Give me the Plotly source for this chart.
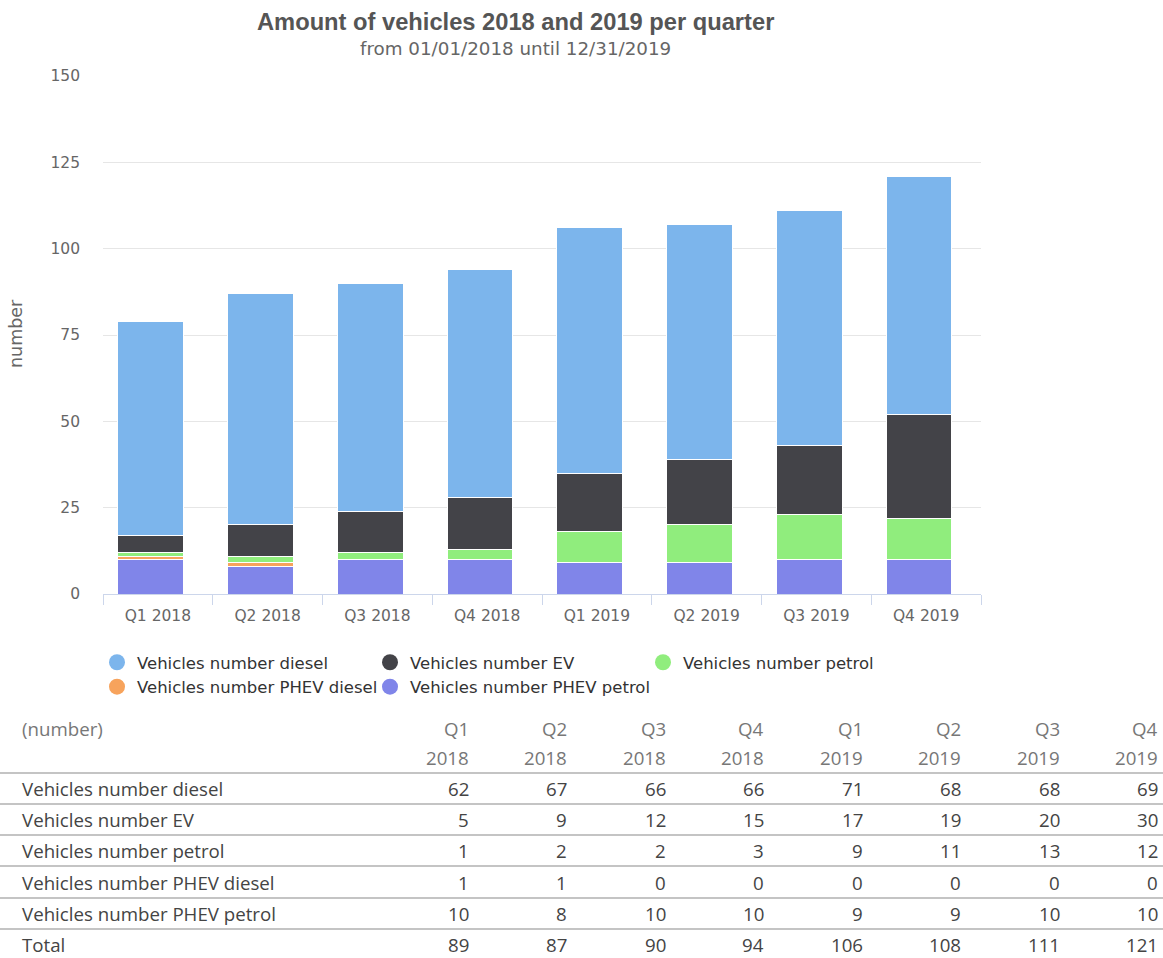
import plotly.graph_objects as go

quarters = ["Q1 2018", "Q2 2018", "Q3 2018", "Q4 2018", "Q1 2019", "Q2 2019", "Q3 2019", "Q4 2019"]
series_names = ["Vehicles number diesel", "Vehicles number EV", "Vehicles number petrol",
                "Vehicles number PHEV diesel", "Vehicles number PHEV petrol"]
diesel = [62, 67, 66, 66, 71, 68, 68, 69]
ev = [5, 9, 12, 15, 17, 19, 20, 30]
petrol = [1, 2, 2, 3, 9, 11, 13, 12]
phev_diesel = [1, 1, 0, 0, 0, 0, 0, 0]
phev_petrol = [10, 8, 10, 10, 9, 9, 10, 10]
totals = [89, 87, 90, 94, 106, 108, 111, 121]
colors = ["#7cb5ec", "#434348", "#90ed7d", "#f7a35c", "#8085e9"]

values = [diesel, ev, petrol, phev_diesel, phev_petrol]

W, H = 1163, 958
L, R, T, B = 103, 981, 76, 594


def px(x):
    return (x - L) / (R - L)


def py(y):
    return (B - y) / (B - T)


fig = go.Figure()
# stack bottom-up: PHEV petrol first
for i in reversed(range(len(series_names))):
    fig.add_trace(go.Bar(x=quarters, y=values[i], name=series_names[i],
                         width=0.6, offset=-0.365,
                         marker=dict(color=colors[i], line=dict(color="white", width=1)),
                         showlegend=False))
# legend entries with circle markers
for i, n in enumerate(series_names):
    fig.add_trace(go.Scatter(x=[None], y=[None], mode="markers", name=n,
                             marker=dict(color=colors[i], size=17, symbol="circle"),
                             legendrank=i + 1))

annotations = [
    dict(text="<b>Amount of vehicles 2018 and 2019 per quarter</b>", x=px(515), y=py(22),
         xref="paper", yref="paper", showarrow=False, xanchor="center", yanchor="middle",
         font=dict(family="Liberation Sans, Arial", size=23.7, color="#555555")),
    dict(text="from 01/01/2018 until 12/31/2019", x=px(515), y=py(48),
         xref="paper", yref="paper", showarrow=False, xanchor="center", yanchor="middle",
         font=dict(family="DejaVu Sans", size=18.3, color="#666666")),
    dict(text="number", x=px(16), y=py(334), xref="paper", yref="paper", showarrow=False,
         xanchor="center", yanchor="middle", textangle=-90,
         font=dict(family="DejaVu Sans", size=17.5, color="#666666")),
]

# table
tfont = "Open Sans"
tsize = 18.7
col_right = [471, 569, 668, 766, 865, 963, 1062, 1160]
annotations.append(dict(text="(number)", x=px(20), y=py(728), xref="paper", yref="paper",
                        showarrow=False, xanchor="left", yanchor="middle",
                        font=dict(family=tfont, size=tsize, color="#777777")))
for j, q in enumerate(quarters):
    qn, yr = q.split(" ")
    for txt, yy in ((qn, 728), (yr, 757)):
        annotations.append(dict(text=txt, x=px(col_right[j]), y=py(yy), xref="paper", yref="paper",
                                showarrow=False, xanchor="right", yanchor="middle",
                                font=dict(family=tfont, size=tsize, color="#777777")))
row_y = [788, 819, 850, 882, 913, 944]
row_labels = series_names + ["Total"]
row_vals = values + [totals]
for r, (lab, vals) in enumerate(zip(row_labels, row_vals)):
    annotations.append(dict(text=lab, x=px(20), y=py(row_y[r]), xref="paper", yref="paper",
                            showarrow=False, xanchor="left", yanchor="middle",
                            font=dict(family=tfont, size=tsize, color="#444444")))
    for j, v in enumerate(vals):
        annotations.append(dict(text=str(v), x=px(col_right[j]), y=py(row_y[r]), xref="paper",
                                yref="paper", showarrow=False, xanchor="right", yanchor="middle",
                                font=dict(family=tfont, size=tsize, color="#444444")))

shapes = []
for ly in [773, 804, 835, 866, 898, 929]:
    shapes.append(dict(type="line", xref="paper", yref="paper", x0=px(0), x1=px(1163),
                       y0=py(ly), y1=py(ly), line=dict(color="#b0b0b0", width=1.5)))

fig.update_layout(
    width=W, height=H,
    margin=dict(l=L, r=W - R, t=T, b=H - B),
    barmode="stack",
    plot_bgcolor="white", paper_bgcolor="white",
    annotations=annotations, shapes=shapes,
    font=dict(family="DejaVu Sans", color="#666666"),
    legend=dict(orientation="h", x=px(97), y=py(645), xanchor="left", yanchor="top",
                entrywidth=228, entrywidthmode="pixels", itemsizing="trace",
                font=dict(family="DejaVu Sans", size=16.5, color="#333333"),
                traceorder="normal", tracegroupgap=0),
    xaxis=dict(showline=True, linecolor="#ccd6eb", linewidth=1, ticks="outside",
               tickson="boundaries", ticklen=10, tickcolor="#ccd6eb",
               ticklabelstandoff=7,
               tickfont=dict(family="DejaVu Sans", size=15.5, color="#666666"), showgrid=False),
    yaxis=dict(range=[0, 150], dtick=25, gridcolor="#e6e6e6", zeroline=False,
               tickfont=dict(family="DejaVu Sans", size=15.5, color="#666666"),
               ticklabelstandoff=22),
)

fig.write_html("out.html", config={"displayModeBar": False},
               post_script="document.body.style.margin='0';document.body.style.overflow='hidden';")
